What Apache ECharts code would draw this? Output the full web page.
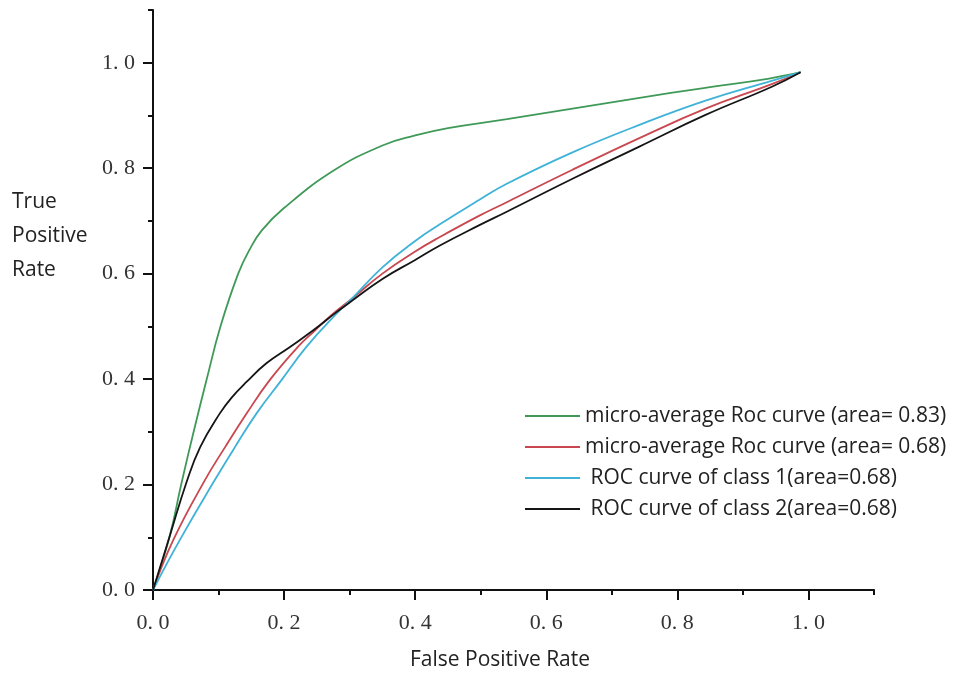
<!DOCTYPE html>
<html>
<head>
<meta charset="utf-8">
<script src="https://cdn.jsdelivr.net/npm/echarts@6/dist/echarts.min.js"></script>
<style>
  html, body { margin: 0; padding: 0; background: #fff; }
  #chart { width: 966px; height: 673px; }
</style>
</head>
<body>
<div id="chart"></div>
<script>
// ROC curves: false positive rate (x) against true positive rate (y)
const seriesNames = [
  'micro-average Roc curve (area= 0.83)',
  'micro-average Roc curve (area= 0.68)',
  ' ROC curve of class 1(area=0.68)',
  ' ROC curve of class 2(area=0.68)'
];

const microFprA = [0, 0.025, 0.043, 0.062, 0.082, 0.103, 0.13, 0.148, 0.166, 0.1985, 0.275, 0.35, 0.4, 0.45, 0.54, 0.64, 0.74, 0.84, 0.94, 0.988];
const microTprA = [0, 0.1, 0.2, 0.3, 0.4, 0.5, 0.6, 0.647, 0.682, 0.723, 0.795, 0.843, 0.862, 0.876, 0.893, 0.913, 0.933, 0.952, 0.970, 0.982];

const microFprB = [0, 0.031, 0.079, 0.110, 0.143, 0.178, 0.221, 0.247, 0.272, 0.303, 0.35, 0.40, 0.437, 0.498, 0.539, 0.640, 0.742, 0.843, 0.945, 0.988];
const microTprB = [0, 0.095, 0.208, 0.271, 0.335, 0.398, 0.461, 0.492, 0.521, 0.552, 0.600, 0.642, 0.669, 0.710, 0.735, 0.797, 0.857, 0.913, 0.960, 0.982];

const class1Fpr = [0, 0.041, 0.094, 0.125, 0.158, 0.196, 0.234, 0.280, 0.303, 0.35, 0.40, 0.437, 0.498, 0.539, 0.640, 0.742, 0.843, 0.945, 0.988];
const class1Tpr = [0, 0.095, 0.208, 0.271, 0.335, 0.398, 0.461, 0.524, 0.552, 0.612, 0.662, 0.693, 0.740, 0.770, 0.830, 0.882, 0.928, 0.966, 0.982];

const class2Fpr = [0, 0.025, 0.051, 0.072, 0.102, 0.12, 0.143, 0.173, 0.209, 0.244, 0.28, 0.303, 0.35, 0.40, 0.437, 0.498, 0.539, 0.640, 0.742, 0.843, 0.945, 0.988];
const class2Tpr = [0, 0.1, 0.204, 0.271, 0.335, 0.365, 0.395, 0.430, 0.461, 0.492, 0.527, 0.548, 0.590, 0.626, 0.653, 0.692, 0.717, 0.780, 0.841, 0.901, 0.955, 0.982];

// axis ticks
const majorTicks = [0, 0.2, 0.4, 0.6, 0.8, 1.0];
const majorTickLabels = ['0. 0', '0. 2', '0. 4', '0. 6', '0. 8', '1. 0'];
const minorTicks = [0.1, 0.3, 0.5, 0.7, 0.9, 1.1];

const colors = ['#3f9a58', '#c9474f', '#3fb2d8', '#151515'];

function pairs(xs, ys) {
  return xs.map((x, i) => [x, ys[i]]);
}

const curves = [
  pairs(microFprA, microTprA),
  pairs(microFprB, microTprB),
  pairs(class1Fpr, class1Tpr),
  pairs(class2Fpr, class2Tpr)
];

const labelFor = v => {
  const i = majorTicks.findIndex(t => Math.abs(t - v) < 1e-6);
  return i >= 0 ? majorTickLabels[i] : '';
};

const sansFont = '"Open Sans", "Noto Sans", sans-serif';
const axisLineStyle = { color: '#111', width: 2 };
const tickFont = { fontFamily: '"Liberation Serif", "DejaVu Serif", serif', fontSize: 22, color: '#333' };

// two stacked axes per direction: one carries the line and short minor ticks,
// the other the long major ticks with their labels
function makeAxes(isX) {
  const base = { type: 'value', min: 0, max: 1.1, splitLine: { show: false } };
  const minor = Object.assign({}, base, {
    position: isX ? 'bottom' : 'left',
    axisLine: { show: true, lineStyle: axisLineStyle },
    axisTick: { show: true, length: 5, customValues: minorTicks, lineStyle: axisLineStyle },
    axisLabel: { show: false }
  });
  const major = Object.assign({}, base, {
    position: isX ? 'bottom' : 'left',
    axisLine: { show: false },
    axisTick: { show: true, length: 10, customValues: majorTicks, lineStyle: axisLineStyle },
    axisLabel: Object.assign({
      show: true,
      customValues: majorTicks,
      margin: isX ? 22 : 18,
      formatter: labelFor
    }, tickFont)
  });
  if (isX) {
    major.name = 'False Positive Rate';
    major.nameLocation = 'middle';
    major.nameGap = 60;
    major.nameTextStyle = { fontFamily: sansFont, fontSize: 21, color: '#222', padding: [0, 27, 0, 0] };
  }
  return [minor, major];
}

const chart = echarts.init(document.getElementById('chart'), null, { renderer: 'canvas' });

chart.setOption({
  backgroundColor: '#fff',
  animation: false,
  grid: { left: 153, right: 92, top: 10, bottom: 83, containLabel: false, outerBoundsMode: 'none' },
  xAxis: makeAxes(true),
  yAxis: makeAxes(false),
  legend: {
    data: seriesNames,
    orient: 'vertical',
    left: 520,
    top: 400,
    itemWidth: 55,
    itemHeight: 2,
    itemGap: 9,
    icon: 'rect',
    textStyle: { fontFamily: sansFont, fontSize: 21, color: '#222', lineHeight: 22 }
  },
  graphic: [{
    type: 'text',
    left: 12,
    top: 185,
    style: {
      text: 'True\nPositive\nRate',
      fontFamily: sansFont,
      fontSize: 21,
      lineHeight: 34,
      fill: '#222'
    }
  }],
  series: curves.map((data, i) => ({
    name: seriesNames[i],
    type: 'line',
    xAxisIndex: 0,
    yAxisIndex: 0,
    data: data,
    smooth: 0.45,
    showSymbol: false,
    symbol: 'none',
    lineStyle: { color: colors[i], width: 1.8 },
    itemStyle: { color: colors[i] },
    z: 3 + i
  }))
});
</script>
</body>
</html>
